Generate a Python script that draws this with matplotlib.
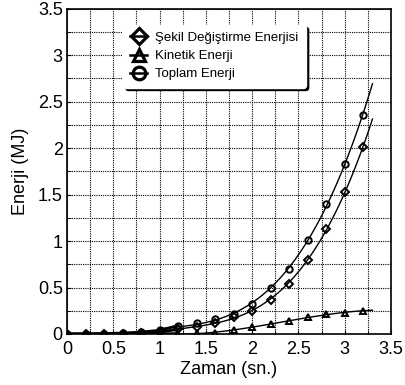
import numpy as np
import matplotlib
matplotlib.use("Agg")
import matplotlib.pyplot as plt

plt.rcParams['font.family'] = ['Liberation Sans', 'DejaVu Sans']

# time (s) and energies (MJ)
t = [0.0, 0.2, 0.4, 0.6, 0.8, 1.0, 1.2, 1.4, 1.6, 1.8, 2.0, 2.2, 2.4, 2.6, 2.8, 3.0, 3.2]
sekil = [0.0, 0.0, 0.0, 0.005, 0.01, 0.02, 0.05, 0.08, 0.12, 0.18, 0.25, 0.37, 0.54, 0.80, 1.13, 1.53, 2.01]
kinetik = [0.0, 0.0, 0.0, 0.0, 0.0, 0.0, 0.005, 0.01, 0.015, 0.04, 0.07, 0.11, 0.14, 0.18, 0.21, 0.23, 0.25]
toplam = [0.0, 0.0, 0.005, 0.01, 0.02, 0.04, 0.09, 0.12, 0.16, 0.215, 0.32, 0.49, 0.70, 1.01, 1.40, 1.83, 2.36]

labels = ["Şekil Değiştirme Enerjisi", "Kinetik Enerji", "Toplam Enerji"]
markers = ["D", "^", "o"]

fig = plt.figure(figsize=(4.06, 3.85), dpi=100)
ax = fig.add_axes([0.165, 0.1325, 0.798, 0.845])

t_arr = np.array(t)
handles = []
for y, m, lab in zip([sekil, kinetik, toplam], markers, labels):
    y = np.array(y)
    # straight segments for the flat early part, smooth fit after
    early = t_arr <= 1.2
    ax.plot(t_arr[early], y[early], color="black", lw=2.0, zorder=3)
    late = t_arr >= 1.0
    c = np.polyfit(t_arr[late], y[late], 3)
    tt = np.linspace(1.0, 3.3, 100)
    ax.plot(tt, np.polyval(c, tt), color="black", lw=1.0, zorder=3)
    ms = 3.8 if m == "D" else 4.6
    ax.plot(t, y, linestyle="none", marker=m, ms=ms, mfc="none", mec="black",
            mew=1.4, zorder=4)
    h, = plt.plot([], [], color="black", lw=1.8, marker=m, ms=ms + 4.5, mfc="none",
                  mec="black", mew=2.3)
    handles.append(h)

ax.set_xlim(0, 3.5)
ax.set_ylim(0, 3.5)
ax.set_xticks(np.arange(0, 3.51, 0.5))
ax.set_yticks(np.arange(0, 3.51, 0.5))
ax.set_xticklabels(["0", "0.5", "1", "1.5", "2", "2.5", "3", "3.5"])
ax.set_yticklabels(["0", "0.5", "1", "1.5", "2", "2.5", "3", "3.5"])
ax.set_xticks(np.arange(0, 3.51, 0.25), minor=True)
ax.set_yticks(np.arange(0, 3.51, 0.25), minor=True)
ax.grid(True, which="both", color="black", linestyle=(0, (1, 1)), lw=0.8)
ax.tick_params(which="both", direction="in", labelsize=13, length=3)
ax.tick_params(axis="x", pad=5)
ax.tick_params(axis="y", pad=3)
for s in ax.spines.values():
    s.set_linewidth(1.2)

ax.set_xlabel("Zaman (sn.)", fontsize=13, labelpad=2)
ax.set_ylabel("Enerji (MJ)", fontsize=13, labelpad=6)

leg = ax.legend(handles, labels, loc="upper left", bbox_to_anchor=(0.173, 0.951),
                borderaxespad=0, fontsize=9.5, handlelength=1.3, handletextpad=0.6,
                labelspacing=0.45, borderpad=0.55, fancybox=True, framealpha=1,
                edgecolor="white", shadow={"color": "black", "alpha": 1})
leg.set_zorder(5)

fig.savefig("out.png", dpi=100)
